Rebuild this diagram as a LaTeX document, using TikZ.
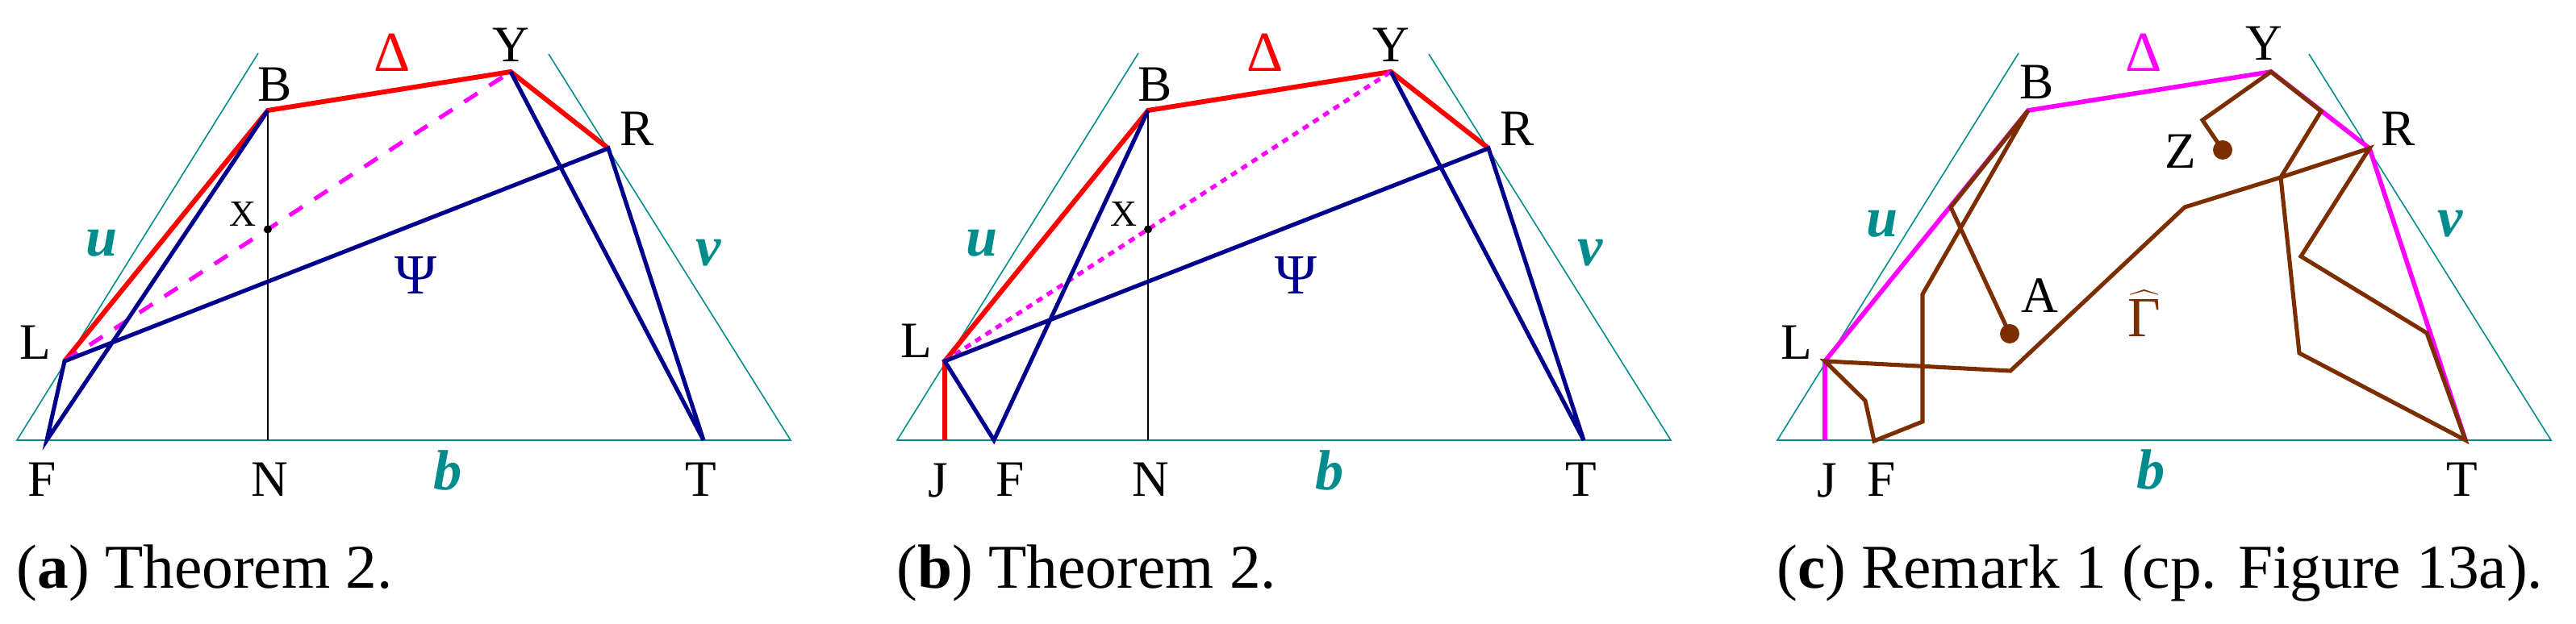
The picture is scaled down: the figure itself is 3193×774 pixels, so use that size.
\documentclass[tikz,border=0pt]{standalone}
\usepackage{fontspec}
\setmainfont{Liberation Serif}
\usepackage{xcolor}
\usepackage{tikz}
\definecolor{tealline}{RGB}{0,140,140}
\definecolor{psiblue}{RGB}{0,0,140}
\definecolor{gambrown}{RGB}{125,46,0}
\definecolor{magline}{RGB}{255,0,255}
\definecolor{redline}{RGB}{255,0,0}

\begin{document}
\begin{tikzpicture}[x=0.01cm,y=-0.01cm]
			\tikzstyle{frame}=[tealline, line width=0.45pt]
			\tikzstyle{plumb}=[black, line width=0.3pt]
			\tikzstyle{redpath}=[redline, line width=1.7pt]
			\tikzstyle{magpath}=[magline, line width=1.6pt]
			\tikzstyle{psipath}=[psiblue, line width=1.45pt]
			\tikzstyle{gampath}=[gambrown, line width=1.45pt]
			\tikzstyle{diagdash}=[magline, line width=1.45pt, dash pattern=on 5.5pt off 5pt]
			\tikzstyle{diagdot}=[magline, line width=1.45pt, dash pattern=on 2.3pt off 2pt]
			\tikzstyle{ptlbl}=[inner sep=0pt, font=\fontsize{18}{18}\selectfont]
			\tikzstyle{smalllbl}=[inner sep=0pt, font=\fontsize{13}{13}\selectfont]
			\tikzstyle{sidelbl}=[inner sep=0pt, text=tealline, font=\fontsize{20}{20}\selectfont\bfseries\itshape]
			\tikzstyle{grklbl}=[inner sep=0pt, font=\fontsize{20}{20}\selectfont]
			\tikzstyle{subcap}=[inner sep=0pt, anchor=base west, font=\fontsize{22}{22}\selectfont]
			\useasboundingbox (0,0) rectangle (3193,774);
			% (a)
			\begin{scope}
				\coordinate (aFL) at (21,546); \coordinate (aFU) at (320,66);
				\coordinate (aFV) at (680,67); \coordinate (aFR) at (980,546);
				\coordinate (aL) at (80,448); \coordinate (aB) at (332,137);
				\coordinate (aY) at (633,89); \coordinate (aR) at (754,184);
				\coordinate (aF) at (58,546); \coordinate (aT) at (872,546);
				\coordinate (aN) at (332,546);
				\draw[frame] (aFU) -- (aFL) -- (aFR) -- (aFV);
				\draw[plumb] (aB) -- (aN);
				\draw[redpath] (aL) -- (aB) -- (aY) -- (aR);
				\draw[diagdash] (aL) -- (aY);
				\draw[psipath] (aB) -- (aF) -- (aL) -- (aR) -- (aT) -- (aY);
				\coordinate (aX) at (intersection of aL--aY and aB--aN);
				\fill (aX) circle (0.05cm);
				\node[ptlbl] (aBl) at (341,105) {B};
				\node[ptlbl] (aYl) at (633,56) {Y};
				\node[ptlbl] (aRl) at (790,160) {R};
				\node[ptlbl] (aLl) at (44,425) {L};
				\node[ptlbl] (aFl) at (52,595) {F};
				\node[ptlbl] (aNl) at (334,595) {N};
				\node[ptlbl] (aTl) at (869,595) {T};
				\node[smalllbl] (aXl) at (301,266) {X};
				\node[sidelbl] (au) at (126,302) {u};
				\node[sidelbl] (av) at (878,314) {v};
				\node[sidelbl] (ab) at (555,584) {b};
				\node[grklbl, text=redline] (aDel) at (486,65) {Δ};
				\node[grklbl, text=psiblue] (aPsi) at (515,341) {Ψ};
				\node[subcap] (acap) at (20,730) {(\textbf{a}) Theorem 2.};
			\end{scope}
			% (b)
			\begin{scope}[shift={(1091,0)}]
				\coordinate (bFL) at (21,546); \coordinate (bFU) at (320,66);
				\coordinate (bFV) at (680,67); \coordinate (bFR) at (980,546);
				\coordinate (bL) at (80,448); \coordinate (bB) at (332,137);
				\coordinate (bY) at (633,89); \coordinate (bR) at (754,184);
				\coordinate (bJ) at (80,546); \coordinate (bF) at (141,546);
				\coordinate (bT) at (872,546); \coordinate (bN) at (332,546);
				\draw[frame] (bFU) -- (bFL) -- (bFR) -- (bFV);
				\draw[plumb] (bB) -- (bN);
				\draw[redpath] (bJ) -- (bL) -- (bB) -- (bY) -- (bR);
				\draw[diagdot] (bL) -- (bY);
				\draw[psipath] (bB) -- (bF) -- (bL) -- (bR) -- (bT) -- (bY);
				\coordinate (bX) at (intersection of bL--bY and bB--bN);
				\fill (bX) circle (0.05cm);
				\node[ptlbl] (bBl) at (341,105) {B};
				\node[ptlbl] (bYl) at (633,56) {Y};
				\node[ptlbl] (bRl) at (790,160) {R};
				\node[ptlbl] (bLl) at (45,423) {L};
				\node[ptlbl] (bJl) at (72,596) {J};
				\node[ptlbl] (bFl) at (161,595) {F};
				\node[ptlbl] (bNl) at (335,595) {N};
				\node[ptlbl] (bTl) at (869,595) {T};
				\node[smalllbl] (bXl) at (302,266) {X};
				\node[sidelbl] (bu) at (126,302) {u};
				\node[sidelbl] (bv) at (880,314) {v};
				\node[sidelbl] (bb) at (557,584) {b};
				\node[grklbl, text=redline] (bDel) at (477,65) {Δ};
				\node[grklbl, text=psiblue] (bPsi) at (515,341) {Ψ};
				\node[subcap] (bcap) at (20,730) {(\textbf{b}) Theorem 2.};
			\end{scope}
			% (c)
			\begin{scope}[shift={(2182,0)}]
				\coordinate (cFL) at (21,546); \coordinate (cFU) at (320,66);
				\coordinate (cFV) at (680,67); \coordinate (cFR) at (980,546);
				\coordinate (cL) at (80,448); \coordinate (cB) at (332,137);
				\coordinate (cY) at (633,89); \coordinate (cR) at (755,184);
				\coordinate (cJ) at (80,546); \coordinate (cF) at (141,547);
				\coordinate (cT) at (874,546);
				\coordinate (cA) at (309,414); \coordinate (cZ) at (573,186);
				\coordinate (cP1) at (236,257); \coordinate (cP2) at (201,365);
				\coordinate (cP3) at (201,523); \coordinate (cP4) at (130,497);
				\coordinate (cP5) at (310,460); \coordinate (cP6) at (526,257);
				\coordinate (cQ) at (645,220); \coordinate (cP7) at (670,318);
				\coordinate (cP8) at (826,413); \coordinate (cP9) at (668,438);
				\coordinate (cP10) at (695,138); \coordinate (cP11) at (548,149);
				\draw[frame] (cFU) -- (cFL) -- (cFR) -- (cFV);
				\draw[magpath] (cJ) -- (cL) -- (cB) -- (cY) -- (cR) -- (cT);
				\draw[gampath] (cA) -- (cP1) -- (cB) -- (cP2) -- (cP3) -- (cF) -- (cP4) -- (cL)
					-- (cP5) -- (cP6) -- (cQ) -- (cR) -- (cP7) -- (cP8) -- (cT) -- (cP9) -- (cQ)
					-- (cP10) -- (cY) -- (cP11) -- (cZ);
				\fill[gambrown] (cA) circle (0.12cm);
				\fill[gambrown] (cZ) circle (0.12cm);
				\node[ptlbl] (cBl) at (343,102) {B};
				\node[ptlbl] (cYl) at (624,54) {Y};
				\node[ptlbl] (cRl) at (791,160) {R};
				\node[ptlbl] (cLl) at (45,425) {L};
				\node[ptlbl] (cJl) at (83,596) {J};
				\node[ptlbl] (cFl) at (150,595) {F};
				\node[ptlbl] (cTl) at (870,595) {T};
				\node[ptlbl] (cAl) at (346,367) {A};
				\node[ptlbl] (cZl) at (521,188) {Z};
				\node[sidelbl] (cu) at (151,278) {u};
				\node[sidelbl] (cv) at (855,278) {v};
				\node[sidelbl] (cb) at (484,583) {b};
				\node[grklbl, text=magline] (cDel) at (475,65) {Δ};
				\node[grklbl, text=gambrown] (cGam) at (476,389) {$\widehat{\mbox{Γ}}$};
				\node[subcap] (ccap) at (20,730) {(\textbf{c}) Remark 1 (cp. Figure 13a).};
			\end{scope}
		\end{tikzpicture}
\end{document}
